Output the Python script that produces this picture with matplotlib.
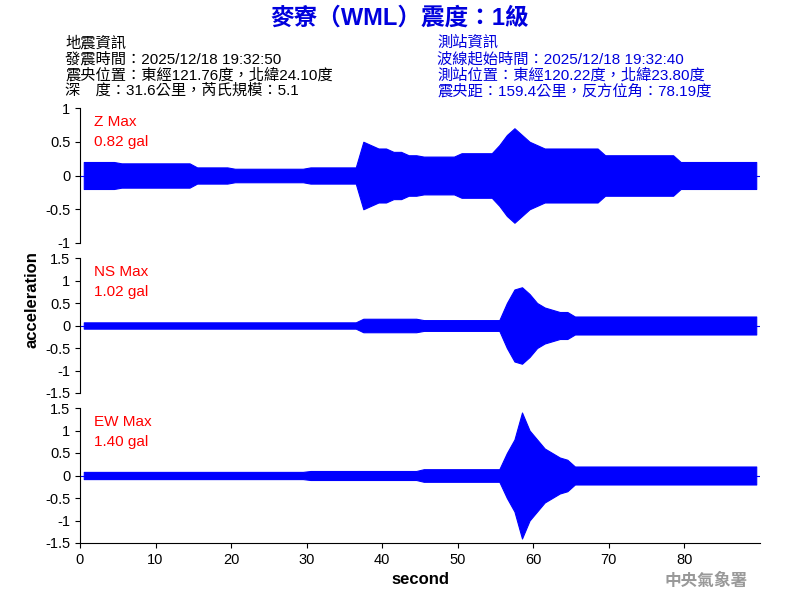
import matplotlib
matplotlib.use("Agg")
import matplotlib.pyplot as plt
import numpy as np

plt.rcParams['font.family'] = ['Liberation Sans', 'Noto Sans CJK TC', 'DejaVu Sans']

seconds = list(range(90))
# envelope (peak amplitude per second, gal)
z_env = [0.2]*5 + [0.18]*10 + [0.12]*5 + [0.1]*10 + [0.12]*7 + [0.5, 0.45, 0.4, 0.4, 0.35, 0.35, 0.3, 0.3] + [0.28]*5 + [0.33]*5 + [0.45, 0.6, 0.7, 0.6, 0.5, 0.45] + [0.4]*8 + [0.3]*10 + [0.2]*11
ns_env = [0.07]*37 + [0.15]*8 + [0.12]*11 + [0.5, 0.8, 0.85, 0.7, 0.5, 0.4, 0.35, 0.3, 0.3] + [0.2]*25
ew_env = [0.08]*30 + [0.1]*15 + [0.14]*11 + [0.5, 0.8, 1.4, 1.0, 0.8, 0.6, 0.5, 0.4, 0.35] + [0.2]*25

comps = [("Z Max", "0.82 gal", z_env, (-1, 1), [-1, -0.5, 0, 0.5, 1]),
         ("NS Max", "1.02 gal", ns_env, (-1.5, 1.5), [-1.5, -1, -0.5, 0, 0.5, 1, 1.5]),
         ("EW Max", "1.40 gal", ew_env, (-1.5, 1.5), [-1.5, -1, -0.5, 0, 0.5, 1, 1.5])]

fig = plt.figure(figsize=(8, 6), dpi=100)
bottoms = [0.595, 0.345, 0.095]
for i, (lab, val, env, yl, yt) in enumerate(comps):
    ax = fig.add_axes([0.1, bottoms[i], 0.85, 0.225])
    e = np.array(env)
    x = np.array(seconds) + 0.5
    ax.fill_between(x, -e, e, color='blue', linewidth=0.8)
    ax.plot([0, 90], [0, 0], color='blue', lw=0.8)
    ax.set_xlim(0, 90)
    ax.set_ylim(*yl)
    ax.set_yticks(yt)
    ax.set_yticklabels([f"{v:g}" for v in yt], fontsize=10.5)
    for s in ['top', 'right']:
        ax.spines[s].set_visible(False)
    ax.text(0.02, 0.95, lab, transform=ax.transAxes, color='red', fontsize=11, va='top')
    ax.text(0.02, 0.8, val, transform=ax.transAxes, color='red', fontsize=11, va='top')
    if i < 2:
        ax.spines['bottom'].set_visible(False)
        ax.set_xticks([])
    else:
        ax.set_xticks(range(0, 90, 10))
        ax.tick_params(axis='x', labelsize=10.5)
        ax.set_xlabel("second", fontsize=12, fontweight='bold')

fig.text(0.04, 0.5, "acceleration", rotation=90, va='center', ha='center', fontsize=12, fontweight='bold')
fig.text(0.5, 0.97, "麥寮（WML）震度：1級", color='#0000dd', fontsize=17, fontweight='bold', ha='center', va='center')
left = ["地震資訊", "發震時間：2025/12/18 19:32:50", "震央位置：東經121.76度，北緯24.10度", "深　度：31.6公里，芮氏規模：5.1"]
right = ["測站資訊", "波線起始時間：2025/12/18 19:32:40", "測站位置：東經120.22度，北緯23.80度", "震央距：159.4公里，反方位角：78.19度"]
for k, (a, b) in enumerate(zip(left, right)):
    y = 1 - (43 + 16*k)/600
    fig.text(65/800, y, a, fontsize=11, va='center', color='black')
    fig.text(437/800, y, b, fontsize=11, va='center', color='#0000dd')
fig.text(0.935, 0.032, "中央氣象署", color='#999999', fontsize=12, fontweight='bold', ha='right', va='center')
fig.savefig("out.png", dpi=100)
